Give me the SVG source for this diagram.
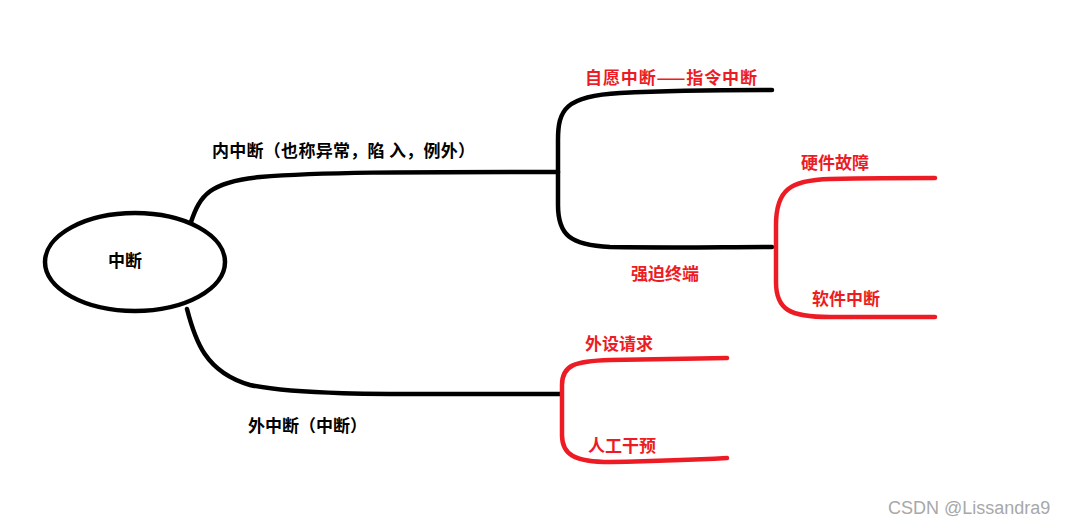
<svg xmlns="http://www.w3.org/2000/svg" width="1072" height="524" viewBox="0 0 1072 524">
<style>
.k{fill:none;stroke:#000;stroke-width:4.5;stroke-linecap:round;stroke-linejoin:round}
.r{fill:none;stroke:#ed1c24;stroke-width:4.5;stroke-linecap:round;stroke-linejoin:round}
.t{font-family:"Noto Sans CJK SC","Noto Sans",sans-serif;font-weight:bold;font-size:17px}
.tb{fill:#000}
.tr{fill:#ed1c24}
.w{font-family:"Liberation Sans",Arial,sans-serif;font-size:18px;fill:#a8a8a8}
</style>
<rect width="1072" height="524" fill="#fff"/>
<g id="connectors">
<path class="k" d="M191,222 C200,195 210,182 260,177 C320,172 400,172 558,172"/>
<path class="k" d="M558,172 L558,140 C558,110 565,96 620,93 C680,90 720,90 772,90"/>
<path class="k" d="M558,172 L558,205 C558,235 570,245 610,247 C680,248 720,247 772,247"/>
<path class="k" d="M187,309 C195,340 205,372 250,385 C300,396 400,394 560,394"/>
</g>
<g id="n-zd"><ellipse class="k" cx="135" cy="262" rx="90" ry="49"/><text class="t tb" x="108" y="267">中断</text></g>
<g id="n-nzd"><text class="t tb" x="212" y="157" textLength="263">内中断（也称异常，陷 入，例外）</text></g>
<g id="n-zy"><text class="t tr" x="585" y="84" textLength="172">自愿中断——指令中断</text></g>
<g id="n-qp"><text class="t tr" x="631" y="280">强迫终端</text></g>
<g id="n-qpb"><path class="r" d="M776,247 L776,225 C776,190 790,180 830,179 C880,178 900,178 935,178 M776,247 L776,282 C776,310 790,317 830,317 C880,317 900,317 935,317"/></g>
<g id="n-yj"><text class="t tr" x="801" y="169">硬件故障</text></g>
<g id="n-rj"><text class="t tr" x="812" y="305">软件中断</text></g>
<g id="n-wzd"><text class="t tb" x="248" y="432">外中断（中断）</text></g>
<g id="n-wb"><path class="r" d="M562,394 L562,385 C562,365 575,361 610,360 C660,359 690,359 727,358 M562,394 L562,435 C562,455 575,462 610,462 C660,461 690,460 727,458"/></g>
<g id="n-ws"><text class="t tr" x="585" y="350">外设请求</text></g>
<g id="n-rg"><text class="t tr" x="588" y="452">人工干预</text></g>
<text class="w" x="888" y="514">CSDN @Lissandra9</text>
</svg>
